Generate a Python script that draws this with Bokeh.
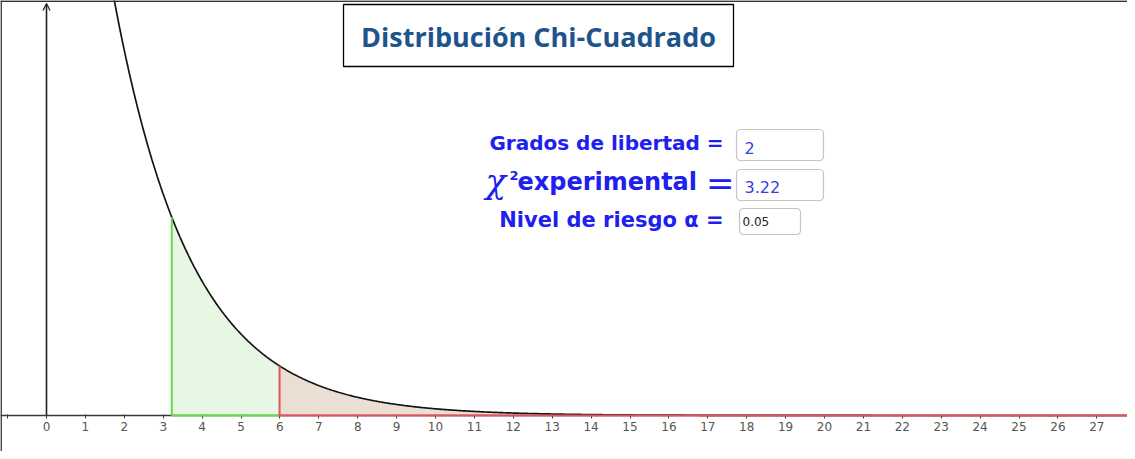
import math
import numpy as np
from bokeh.plotting import figure
from bokeh.models import (Range1d, FixedTicker, Arrow, OpenHead, BoxAnnotation,
                          Label, Span)
from bokeh.embed import file_html
from bokeh.resources import INLINE

# ---- data ----
chart_title = "Distribución Chi-Cuadrado"
grados_libertad = 2
chi2_experimental = 3.22
nivel_riesgo = 0.05
chi2_critico = 5.991          # chi2(1 - 0.05, 2)
x_max = 27.8
tick_values = list(range(-1, 28))
tick_labels = {t: ("" if t < 0 else str(t)) for t in tick_values}


def chi2_pdf(x, k):
    x = np.asarray(x, dtype=float)
    return x ** (k / 2 - 1) * np.exp(-x / 2) / (2 ** (k / 2) * math.gamma(k / 2))


# ---- pixel -> data helpers for the overlay layout (page px) ----
X0, SX, Y0, SY = 54.0, 38.9, 423.0, 1985.0


def dx(px):
    return (px - X0) / SX


def dy(py):
    return (Y0 - py) / SY


p = figure(width=1127, height=451, output_backend="svg", toolbar_location=None,
           x_range=Range1d(dx(8), dx(1135)), y_range=Range1d(dy(459), dy(8)),
           min_border=0, y_axis_location=None, x_axis_location="below")
p.grid.visible = False
p.outline_line_color = None
p.background_fill_color = "white"
p.border_fill_color = "white"

# curve + areas
xs = np.linspace(0.02, x_max, 1200)
ys = chi2_pdf(xs, grados_libertad)

xg = np.linspace(chi2_experimental, chi2_critico, 200)
p.varea(x=xg, y1=np.zeros_like(xg), y2=chi2_pdf(xg, grados_libertad),
        fill_color="#e8f7e3", fill_alpha=1.0)
xr = np.linspace(chi2_critico, x_max, 600)
p.varea(x=xr, y1=np.zeros_like(xr), y2=chi2_pdf(xr, grados_libertad),
        fill_color="#ebdfd3", fill_alpha=1.0)

p.line(xs, ys, line_color="#141414", line_width=1.7)

g_top = float(chi2_pdf(chi2_experimental, grados_libertad))
r_top = float(chi2_pdf(chi2_critico, grados_libertad))
p.segment(x0=[chi2_experimental, chi2_experimental], y0=[0, 0],
          x1=[chi2_experimental, chi2_critico], y1=[g_top, 0],
          line_color="#66d94c", line_width=2, level="overlay")
p.segment(x0=[chi2_critico, chi2_critico], y0=[0, 0],
          x1=[chi2_critico, x_max], y1=[r_top, 0],
          line_color="#e8505a", line_width=2, level="overlay")

# x axis at y = 0
ax = p.xaxis[0]
ax.fixed_location = 0
ax.ticker = FixedTicker(ticks=tick_values)
ax.major_label_overrides = tick_labels
ax.minor_tick_line_color = None
ax.axis_line_color = "#3a3a3a"
ax.axis_line_width = 1.3
ax.major_tick_line_color = "#3a3a3a"
ax.major_tick_in = 1
ax.major_tick_out = 3
ax.major_label_standoff = 3
ax.major_label_text_font = "DejaVu Sans"
ax.major_label_text_font_size = "12px"
ax.major_label_text_color = "#555555"

# y axis arrow
p.add_layout(Arrow(end=OpenHead(size=7, line_width=1.3, line_color="#222222"),
                   x_start=0, y_start=0, x_end=0, y_end=dy(11),
                   line_color="#222222", line_width=1.6))

# frame borders (left and top)
p.add_layout(Span(location=dx(8.6), dimension="height", line_color="#333333", line_width=1.6))
p.add_layout(Span(location=dy(8.6), dimension="width", line_color="#333333", line_width=1.8))

# title box
p.add_layout(BoxAnnotation(left=dx(351), right=dx(741), top=dy(12), bottom=dy(74),
                           fill_color="white", fill_alpha=1.0,
                           line_color="black", line_alpha=1.0, line_width=1.3))
p.add_layout(Label(x=dx(546), y=dy(44), text=chart_title, text_align="center",
                   text_baseline="middle", text_font="Open Sans",
                   text_font_style="bold", text_font_size="27px",
                   text_color="#1d548c"))

blue = "#2020ee"
# Grados de libertad
p.add_layout(Label(x=dx(731), y=dy(150), text="Grados de libertad =", text_align="right",
                   text_baseline="middle", text_font="DejaVu Sans", text_font_style="bold",
                   text_font_size="20px", text_color=blue))
# chi^2 experimental
p.add_layout(Label(x=dx(493), y=dy(188), text="χ", text_align="left",
                   text_baseline="middle", text_font="DejaVu Serif",
                   text_font_style="italic", text_font_size="34px", text_color=blue))
p.add_layout(Label(x=dx(517), y=dy(183), text="2", text_align="left",
                   text_baseline="middle", text_font="DejaVu Sans",
                   text_font_style="bold", text_font_size="13px", text_color=blue))
p.add_layout(Label(x=dx(525), y=dy(189), text="experimental", text_align="left",
                   text_baseline="middle", text_font="DejaVu Sans",
                   text_font_style="bold", text_font_size="24px", text_color=blue))
p.add_layout(Label(x=dx(742), y=dy(190), text="=", text_align="right",
                   text_baseline="middle", text_font="DejaVu Serif",
                   text_font_size="34px", text_color=blue))
# Nivel de riesgo
p.add_layout(Label(x=dx(731), y=dy(227), text="Nivel de riesgo α =", text_align="right",
                   text_baseline="middle", text_font="DejaVu Sans", text_font_style="bold",
                   text_font_size="21px", text_color=blue))

# input boxes
for (l, r, t, b) in [(744, 831, 137, 168), (744, 831, 177, 208), (747, 808, 216, 242)]:
    p.add_layout(BoxAnnotation(left=dx(l), right=dx(r), top=dy(t), bottom=dy(b),
                               fill_color="white", fill_alpha=1.0,
                               line_color="#c4c4c4", line_alpha=1.0, line_width=1.2,
                               border_radius=4))

p.add_layout(Label(x=dx(752), y=dy(155), text=str(grados_libertad), text_align="left",
                   text_baseline="middle", text_font="DejaVu Sans",
                   text_font_size="16px", text_color="#3344dd"))
p.add_layout(Label(x=dx(752), y=dy(194), text=f"{chi2_experimental:.2f}", text_align="left",
                   text_baseline="middle", text_font="DejaVu Sans",
                   text_font_size="16px", text_color="#3344dd"))
p.add_layout(Label(x=dx(750), y=dy(229), text=f"{nivel_riesgo:.2f}", text_align="left",
                   text_baseline="middle", text_font="DejaVu Sans",
                   text_font_size="12px", text_color="#222222"))

open("out.html", "w").write(file_html(p, INLINE))
